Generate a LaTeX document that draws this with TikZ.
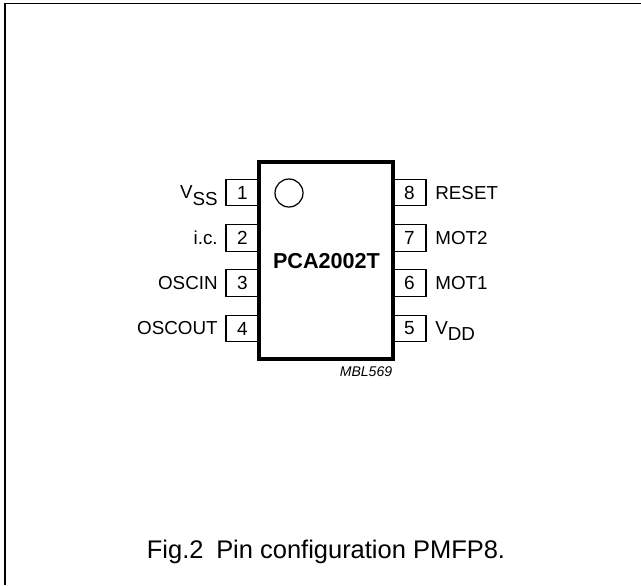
\documentclass[tikz,border=0pt]{standalone}
\usepackage{fontspec}
\setmainfont{Liberation Sans}
\tikzset{
	pinbox/.style={draw, line width=0.7pt, minimum width=0.66cm, minimum height=0.53cm, inner sep=0pt, font=\fontsize{10.8}{12}\selectfont},
	pinname/.style={inner sep=0pt, font=\fontsize{10.7}{12}\selectfont},
}
\newcommand{\subtxt}[2]{#1\raisebox{-0.7ex}{#2}}
\begin{document}
\begin{tikzpicture}[x=0.02cm,y=-0.02cm]
	\useasboundingbox (0,0) rectangle (641,585);

	\coordinate (framebl) at (5.3,585);
	\coordinate (frametl) at (5.3,3.5);
	\coordinate (frametr) at (641,3.5);
	\draw[line width=1pt] (framebl) -- (frametl) -- (frametr);

	\node[draw, line width=1.8pt, minimum width=2.68cm, minimum height=3.94cm, inner sep=0pt] (chip) at (326,260.5) {};
	\node[inner sep=0pt, font=\fontsize{12.3}{14}\selectfont\bfseries] (partname) at (326.5,261) {PCA2002T};
	\node[draw, circle, line width=0.7pt, minimum size=0.56cm, inner sep=0pt] (dot) at (289,193) {};
	\node[inner sep=0pt, font=\fontsize{8}{9}\selectfont\itshape] (code) at (366,372) {MBL569};

	% left side
	\node[pinbox] (p1) at (242.5,192.5) {1};
	\node[pinbox] (p2) at (242.5,238) {2};
	\node[pinbox] (p3) at (242.5,283) {3};
	\node[pinbox] (p4) at (242.5,328.5) {4};
	\node[pinname, anchor=east] (n1) at (218,196) {\subtxt{V}{SS}};
	\node[pinname, anchor=east] (n2) at (218,238) {i.c.};
	\node[pinname, anchor=east] (n3) at (218,283) {OSCIN};
	\node[pinname, anchor=east] (n4) at (218,328) {OSCOUT};

	% right side
	\node[pinbox] (p8) at (409.5,192.5) {8};
	\node[pinbox] (p7) at (409.5,238) {7};
	\node[pinbox] (p6) at (409.5,283) {6};
	\node[pinbox] (p5) at (409.5,328.5) {5};
	\node[pinname, anchor=west] (n8) at (435,193) {RESET};
	\node[pinname, anchor=west] (n7) at (435,238) {MOT2};
	\node[pinname, anchor=west] (n6) at (435,283) {MOT1};
	\node[pinname, anchor=west] (n5) at (435,331) {\subtxt{V}{DD}};

	\node[inner sep=0pt, font=\fontsize{14.5}{16}\selectfont] (caption) at (326,551.5) {Fig.2\hspace{0.5em}Pin configuration PMFP8.};
\end{tikzpicture}
\end{document}
